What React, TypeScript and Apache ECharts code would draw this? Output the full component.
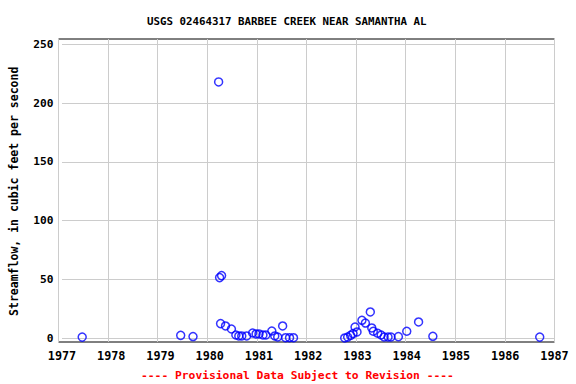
import React, { useEffect, useRef } from "react";
import * as echarts from "echarts";

const titleText = "USGS 02464317 BARBEE CREEK NEAR SAMANTHA AL";
const yAxisTitle = "Streamflow, in cubic feet per second";
const footerText = "---- Provisional Data Subject to Revision ----";

const years: number[] = [
  1977.41, 1979.41, 1979.66,
  1980.18, 1980.2, 1980.24, 1980.22, 1980.32, 1980.44,
  1980.53, 1980.59, 1980.65, 1980.75, 1980.87, 1980.94, 1981.0, 1981.08,
  1981.14, 1981.26, 1981.32, 1981.38, 1981.48, 1981.54, 1981.62, 1981.7,
  1982.74, 1982.8, 1982.86, 1982.91, 1982.95, 1982.99, 1983.09, 1983.16,
  1983.26, 1983.29, 1983.32, 1983.41, 1983.48, 1983.54, 1983.62, 1983.68,
  1983.83, 1984.0, 1984.24, 1984.53, 1986.7,
];
const flows: number[] = [
  1, 2.5, 1.5,
  218, 51.6, 53.3, 12.5, 10.5, 7.9,
  2.8, 2, 2, 2, 4.5, 3.7, 3.7, 2.8,
  2.8, 6.2, 2, 1.1, 10.5, 0.5, 0.5, 0.5,
  0.3, 1, 2.5, 4, 9.6, 5.4, 15.3, 13,
  22.4, 8.8, 6, 4.3, 2.8, 1.1, 1.1, 1.1,
  1.4, 6, 13.9, 1.7, 1,
];

const xMin = 1977;
const xMax = 1987;
const yMin = 0;
const yMax = 250;

export default function App() {
  const ref = useRef<HTMLDivElement>(null);
  useEffect(() => {
    if (!ref.current) return;
    const chart = echarts.init(ref.current, undefined, { renderer: "svg" });
    const font = "'DejaVu Sans Mono', monospace";
    const data = years.map((y, i) => [y, flows[i]]);
    chart.setOption({
      animation: false,
      backgroundColor: "#ffffff",
      title: {
        text: titleText,
        left: 142,
        top: 11,
        textStyle: { fontFamily: font, fontWeight: "bold", fontSize: 10.8, color: "#000" },
      },
      grid: [
        { left: 58.5, right: 21.5, top: 44.3, bottom: 45.7, containLabel: false },
        {
          left: 58.5, right: 21.5, top: 39, bottom: 42,
          show: true, borderColor: "#000", borderWidth: 1, backgroundColor: "transparent",
        },
      ],
      xAxis: [
        {
          type: "value", gridIndex: 0, min: xMin, max: xMax, interval: 1,
          axisLine: { show: false }, axisTick: { show: false }, splitLine: { show: false },
          axisLabel: {
            margin: 12, fontFamily: font, fontWeight: "bold", fontSize: 11.8, color: "#000",
            formatter: (v: number) => String(Math.round(v)),
          },
        },
        {
          type: "value", gridIndex: 1, min: xMin, max: xMax, interval: 1,
          axisLine: { show: false }, axisTick: { show: false }, axisLabel: { show: false },
          splitLine: { show: true, lineStyle: { color: "#cccccc", width: 1 } },
        },
      ],
      yAxis: [
        {
          type: "value", gridIndex: 0, min: yMin, max: yMax, interval: 50,
          axisLine: { show: false }, axisTick: { show: false },
          splitLine: { show: true, lineStyle: { color: "#cccccc", width: 1 } },
          axisLabel: { margin: 8.5, fontFamily: font, fontWeight: "bold", fontSize: 11.2, color: "#000" },
          name: yAxisTitle,
          nameLocation: "middle",
          nameGap: 42,
          nameTextStyle: { fontFamily: font, fontWeight: "bold", fontSize: 11.5, color: "#000" },
        },
        {
          type: "value", gridIndex: 1, min: 0, max: 1,
          axisLine: { show: false }, axisTick: { show: false }, axisLabel: { show: false },
          splitLine: { show: false },
        },
      ],
      series: [
        {
          type: "scatter",
          xAxisIndex: 0,
          yAxisIndex: 0,
          clip: false,
          symbol: "circle",
          symbolSize: 8,
          itemStyle: { color: "transparent", borderColor: "#0000ff", borderWidth: 1.5 },
          data,
        },
      ],
      graphic: [
        {
          type: "text",
          left: 298 - 157,
          top: 370,
          style: {
            text: footerText,
            fontFamily: font,
            fontWeight: "bold",
            fontSize: 11.3,
            fill: "#ff0000",
          },
        },
      ],
    });
    return () => chart.dispose();
  }, []);
  return (
    <div
      ref={ref}
      style={{ position: "fixed", left: 0, top: 0, width: 576, height: 384 }}
    />
  );
}
